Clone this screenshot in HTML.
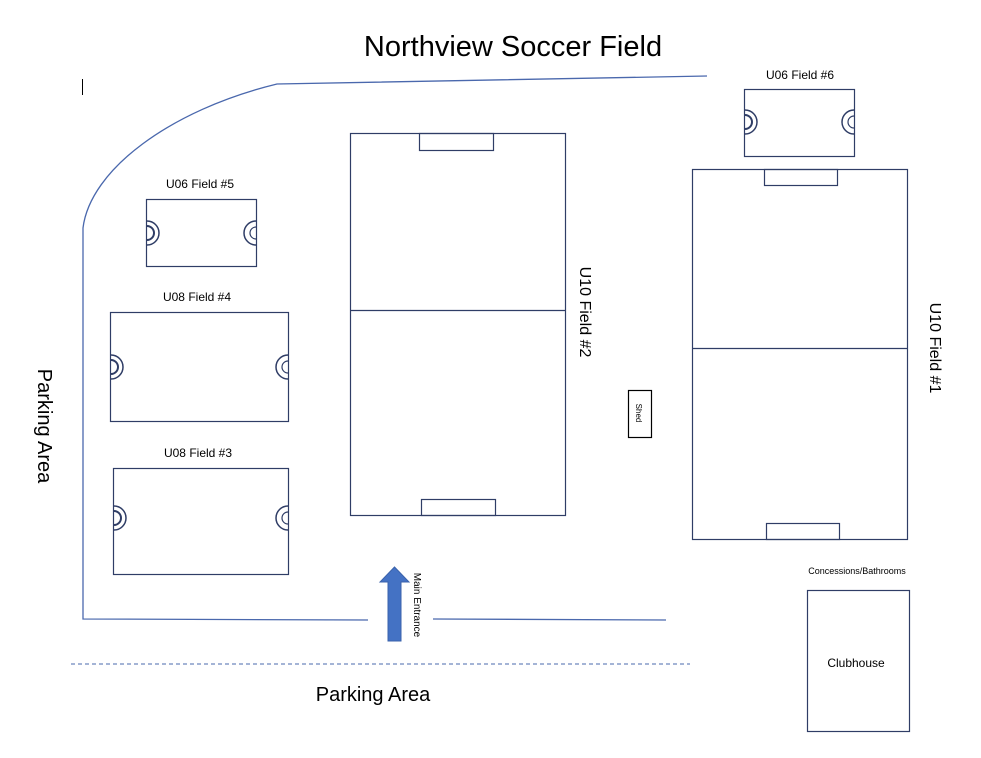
<!DOCTYPE html>
<html><head><style>
html,body{margin:0;padding:0;background:#fff;}
svg{display:block;}
text{font-family:"Liberation Sans",sans-serif;fill:#000;}
</style></head><body>
<svg width="981" height="758" viewBox="0 0 981 758" xmlns="http://www.w3.org/2000/svg">
<defs>
<g id="gl"><path d="M0,-12 A12,12 0 0 1 0,12" fill="none" stroke="#2f3d66" stroke-width="1.5"/><path d="M0,-7 A7,7 0 0 1 0,7" fill="none" stroke="#2f3d66" stroke-width="2"/></g>
<g id="gr"><path d="M0,-12 A12,12 0 0 0 0,12" fill="none" stroke="#2f3d66" stroke-width="1.5"/><path d="M0,-6 A6,6 0 0 0 0,6" fill="none" stroke="#2f3d66" stroke-width="1.2"/></g>
</defs>
<text x="513" y="56" font-size="29" text-anchor="middle">Northview Soccer Field</text>
<line x1="82.5" y1="79" x2="82.5" y2="95" stroke="#000" stroke-width="1"/>
<path d="M707,76 L277,84 C170,110 90,170 83,228 L83,619 L368,620" fill="none" stroke="#4a68ad" stroke-width="1.3"/>
<line x1="433" y1="619" x2="666" y2="620" stroke="#4a68ad" stroke-width="1.3"/>
<line x1="71" y1="664" x2="690" y2="664" stroke="#4a68ad" stroke-width="1" stroke-dasharray="4,3"/>
<text x="373" y="701" font-size="20" text-anchor="middle">Parking Area</text>
<text transform="translate(38,426) rotate(90)" font-size="20" text-anchor="middle">Parking Area</text>
<g fill="none" stroke="#2f3d66" stroke-width="1.2">
<rect x="146.5" y="199.5" width="110" height="67"/>
<rect x="110.5" y="312.5" width="178" height="109"/>
<rect x="113.5" y="468.5" width="175" height="106"/>
<rect x="350.5" y="133.5" width="215" height="382"/>
<line x1="350" y1="310.5" x2="565" y2="310.5"/>
<rect x="419.5" y="133.5" width="74" height="17"/>
<rect x="421.5" y="499.5" width="74" height="16"/>
<rect x="744.5" y="89.5" width="110" height="67"/>
<rect x="692.5" y="169.5" width="215" height="370"/>
<line x1="692" y1="348.5" x2="907" y2="348.5"/>
<rect x="764.5" y="169.5" width="73" height="16"/>
<rect x="766.5" y="523.5" width="73" height="16"/>
<rect x="628.5" y="390.5" width="23" height="47" stroke="#000"/>
<rect x="807.5" y="590.5" width="102" height="141"/>
</g>
<use href="#gl" x="147" y="233"/><use href="#gr" x="256" y="233"/>
<use href="#gl" x="111" y="367"/><use href="#gr" x="288" y="367"/>
<use href="#gl" x="114" y="518"/><use href="#gr" x="288" y="518"/>
<use href="#gl" x="745" y="122"/><use href="#gr" x="854" y="122"/>
<text x="200" y="188" font-size="12" text-anchor="middle">U06 Field #5</text>
<text x="197" y="301" font-size="12" text-anchor="middle">U08 Field #4</text>
<text x="198" y="457" font-size="12" text-anchor="middle">U08 Field #3</text>
<text x="800" y="79" font-size="12" text-anchor="middle">U06 Field #6</text>
<text transform="translate(580,312) rotate(90)" font-size="16" text-anchor="middle">U10 Field #2</text>
<text transform="translate(930,348) rotate(90)" font-size="16" text-anchor="middle">U10 Field #1</text>
<text transform="translate(636,413) rotate(90)" font-size="8" text-anchor="middle">Shed</text>
<path d="M388,641 L401,641 L401,582 L409,582 L394.5,567 L380,582 L388,582 Z" fill="#4472c4" stroke="#3a62ab" stroke-width="1"/>
<text transform="translate(414,605) rotate(90)" font-size="10" text-anchor="middle">Main Entrance</text>
<text x="857" y="574" font-size="9" text-anchor="middle">Concessions/Bathrooms</text>
<text x="856" y="667" font-size="12" text-anchor="middle">Clubhouse</text>
</svg>
</body></html>
